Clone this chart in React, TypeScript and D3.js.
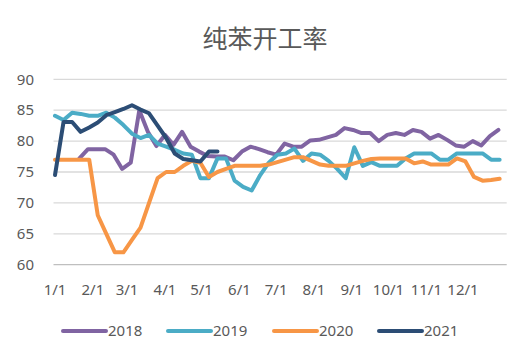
import React from "react";
import * as d3 from "d3";

const title = "纯苯开工率";
const yTicks = [60, 65, 70, 75, 80, 85, 90];
const seriesNames = ["2018", "2019", "2020", "2021"];
const seriesColors = ["#8064a2", "#4bacc6", "#f79646", "#2c4d75"];
// first point's day offset from Jan 1, weekly after that
const startDays = [20, 0, 0, 0];

const v2018 = [77.2, 78.7, 78.7, 78.7, 77.8, 75.5, 76.5, 85, 81.5, 79.2, 81, 79.4, 81.5, 79.1, 78.3, 77.6, 77.5, 77.5, 76.9, 78.3,
  79.1, 78.7, 78.2, 77.8, 79.6, 79.1, 79.1, 80.1, 80.2, 80.6, 81, 82.1, 81.8, 81.3, 81.3, 80, 81, 81.3, 81, 81.8,
  81.5, 80.4, 81, 80.2, 79.3, 79.1, 80, 79.3, 80.8, 81.8];
const v2019 = [84.1, 83.4, 84.6, 84.4, 84.1, 84.1, 84.6, 83.8, 82.6, 81.2, 80.5, 81, 79.6, 79.1, 78.6, 78, 77.8, 74, 74, 77.2,
  77.2, 73.6, 72.6, 72, 74.5, 76.5, 77.8, 78, 78.8, 76.8, 78, 77.8, 76.8, 75.5, 74, 79, 76, 76.6, 76, 76,
  76, 77.2, 78, 78, 78, 77, 77, 78, 78, 78, 78, 77, 77];
const v2020 = [77, 77, 77, 77, 77, 68, 65, 62, 62, 64, 66, 70, 74, 75, 75, 76, 76.8, 76.5, 74.2, 75,
  75.5, 76, 76, 76, 76, 76.2, 76.6, 77, 77.4, 77.4, 76.8, 76.2, 76, 76, 76, 76.4, 76.8, 77.1, 77.2, 77.2,
  77.2, 77.2, 76.4, 76.7, 76.2, 76.2, 76.2, 77.2, 76.7, 74.2, 73.6, 73.7, 73.9];
const v2021 = [74.5, 83.1, 83.1, 81.5, 82.2, 83, 84.2, 84.7, 85.2, 85.8, 85.1, 84.5, 82.5, 80.5, 78, 77.1, 76.9, 76.7, 78.3, 78.3];

const allValues = [v2018, v2019, v2020, v2021];

export default function App() {
  const W = 530, H = 361;
  const base = new Date(2021, 0, 1);
  const x = d3.scaleTime().domain([base, new Date(2021, 11, 1)]).range([55, 463]);
  const y = d3.scaleLinear().domain([60, 90]).range([264.7, 79.3]);
  const monthTicks = d3.timeMonth.range(base, new Date(2021, 11, 2));
  const fmt = (d: Date) => `${d.getMonth() + 1}/1`;
  const line = d3.line<[Date, number]>().x(d => x(d[0])).y(d => y(d[1]));
  const font = "'Noto Sans', 'Noto Sans CJK SC', sans-serif";
  const txt = "#595959";
  const legendX = [63, 168, 274, 379];

  return (
    <svg width={W} height={H} style={{ position: "absolute", left: 0, top: 0, background: "#fff" }} fontFamily={font}>
      <text x={265} y={48} textAnchor="middle" fontSize={25} fill={txt} fontFamily="'Noto Sans CJK SC', sans-serif">{title}</text>
      {yTicks.map(t => (
        <g key={t}>
          <line x1={53.5} x2={506.7} y1={y(t)} y2={y(t)} stroke={t === 60 ? "#bfbfbf" : "#d9d9d9"} strokeWidth={1.3} />
          <text x={34} y={y(t)} dy="0.35em" textAnchor="end" fontSize={15} fill={txt}>{t}</text>
        </g>
      ))}
      {monthTicks.map(d => (
        <text key={+d} x={x(d)} y={295} textAnchor="middle" fontSize={15} fill={txt}>{fmt(d)}</text>
      ))}
      {allValues.map((vals, si) => {
        const pts: [Date, number][] = vals.map((v, i) => [d3.timeDay.offset(base, startDays[si] + 7 * i), v]);
        return (
          <path key={si} d={line(pts) || ""} fill="none" stroke={seriesColors[si]} strokeWidth={4}
            strokeLinejoin="round" strokeLinecap="round" />
        );
      })}
      {seriesNames.map((n, i) => (
        <g key={n}>
          <line x1={legendX[i]} x2={legendX[i] + 43} y1={331} y2={331} stroke={seriesColors[i]} strokeWidth={4} strokeLinecap="round" />
          <text x={legendX[i] + 45} y={331} dy="0.36em" fontSize={15} fill={txt}>{n}</text>
        </g>
      ))}
    </svg>
  );
}
